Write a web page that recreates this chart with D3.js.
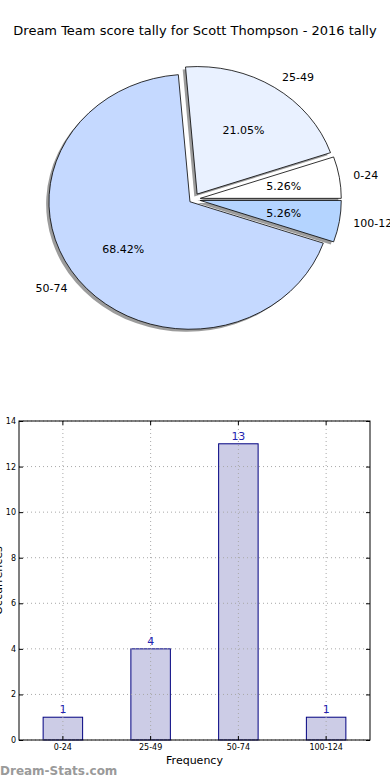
<!DOCTYPE html>
<html><head><meta charset="utf-8">
<script src="https://cdn.jsdelivr.net/npm/d3@7"></script>
<style>body{margin:0;background:#fff}svg{display:block}text{font-family:"DejaVu Sans",sans-serif}</style>
</head><body><svg id="c" width="390" height="780"></svg>
<script>
const title = "Dream Team score tally for Scott Thompson - 2016 tally";
const categories = ["0-24", "25-49", "50-74", "100-124"];
const counts = [1, 4, 13, 1];
const pieColors = ["#ffffff", "#e9f1ff", "#c5d9ff", "#b4d4ff"];
const explode = [0.05, 0.05, 0.03, 0.05];
const yTicks = [0, 2, 4, 6, 8, 10, 12, 14];
const xLabel = "Frequency";
const yLabel = "Occurrences";
const watermark = "Dream-Stats.com";

const svg = d3.select("#c");
svg.append("text").attr("x", 195).attr("y", 35).attr("text-anchor", "middle")
  .attr("font-size", 13).text(title);

// ---- Pie ----
const cx = 193.3, cy = 199.4, rx = 141, ry = 127.5;
const total = d3.sum(counts);
const pie = d3.pie().sort(null).startAngle(Math.PI/2).endAngle(Math.PI/2 - 2*Math.PI);
const arcs = pie(counts);
const arc = d3.arc().innerRadius(0).outerRadius(rx);
const sy = ry / rx;
function centerOf(d, i) {
  const m = (d.startAngle + d.endAngle) / 2;
  return [cx + explode[i]*rx*Math.sin(m), cy - explode[i]*ry*Math.cos(m)];
}
const gp = svg.append("g");
// shadows
arcs.forEach((d, i) => {
  const [x, y] = centerOf(d, i);
  gp.append("path").attr("d", arc(d))
    .attr("transform", `translate(${x - 0.02*rx},${y + 0.02*ry}) scale(1,${sy})`)
    .attr("fill", "#3a3a3a").attr("fill-opacity", 0.5);
});
arcs.forEach((d, i) => {
  const [x, y] = centerOf(d, i);
  gp.append("path").attr("d", arc(d))
    .attr("transform", `translate(${x},${y}) scale(1,${sy})`)
    .attr("fill", pieColors[i]).attr("stroke", "#000").attr("stroke-width", 0.8)
    .attr("vector-effect", "non-scaling-stroke").attr("stroke-linejoin", "miter");
});
arcs.forEach((d, i) => {
  const [x, y] = centerOf(d, i);
  const m = (d.startAngle + d.endAngle) / 2;
  const lx = x + 1.1*rx*Math.sin(m), ly = y - 1.1*ry*Math.cos(m);
  gp.append("text").attr("x", lx).attr("y", ly).attr("dy", "0.35em")
    .attr("text-anchor", lx > cx ? "start" : "end").attr("font-size", 11).text(categories[i]);
  const px = x + 0.6*rx*Math.sin(m), py = y - 0.6*ry*Math.cos(m);
  gp.append("text").attr("x", px).attr("y", py).attr("dy", "0.35em")
    .attr("text-anchor", "middle").attr("font-size", 11)
    .text((100*counts[i]/total).toFixed(2) + "%");
});

// ---- Bar chart ----
const L = 19, R = 370, T = 421, B = 740;
const x = d3.scaleBand().domain(categories).range([L, R]).padding(0);
const y = d3.scaleLinear().domain([0, 14]).range([B, T]);
const gb = svg.append("g");
const barW = x.bandwidth() * 0.45;
gb.selectAll("rect.bar").data(categories).join("rect").attr("class", "bar")
  .attr("x", d => x(d) + x.bandwidth()/2 - barW/2)
  .attr("y", (d, i) => y(counts[i]))
  .attr("width", barW).attr("height", (d, i) => B - y(counts[i]))
  .attr("fill", "#ccccе6".replace("е","e")).attr("stroke", "#000080").attr("stroke-width", 1);
// grid
yTicks.forEach(t => {
  gb.append("line").attr("x1", L).attr("x2", R).attr("y1", y(t)).attr("y2", y(t))
    .attr("stroke", "#a8a8a8").attr("stroke-width", 1).attr("stroke-dasharray", "1,3");
});
categories.forEach(c => {
  const xc = x(c) + x.bandwidth()/2;
  gb.append("line").attr("x1", xc).attr("x2", xc).attr("y1", T).attr("y2", B)
    .attr("stroke", "#a8a8a8").attr("stroke-width", 1).attr("stroke-dasharray", "1,3");
});
// frame
gb.append("rect").attr("x", L).attr("y", T).attr("width", R - L).attr("height", B - T)
  .attr("fill", "none").attr("stroke", "#000").attr("stroke-width", 1);
// axes
const yAxis = d3.axisLeft(y).tickValues(yTicks).tickSize(-4).tickPadding(3);
const ga = gb.append("g").attr("transform", `translate(${L},0)`).call(yAxis);
ga.select(".domain").remove();
ga.selectAll("text").attr("font-size", 8).attr("font-family", "DejaVu Sans");
const yAxisR = d3.axisRight(y).tickValues(yTicks).tickSize(-4).tickFormat("");
const gr = gb.append("g").attr("transform", `translate(${R},0)`).call(yAxisR);
gr.select(".domain").remove();
const xAxis = d3.axisBottom(x).tickSize(-4).tickPadding(4);
const gx = gb.append("g").attr("transform", `translate(0,${B})`).call(xAxis);
gx.select(".domain").remove();
gx.selectAll("text").attr("font-size", 8).attr("font-family", "DejaVu Sans");
gb.append("g").attr("transform", `translate(0,${T})`).call(d3.axisTop(x).tickSize(-4).tickFormat(""))
  .select(".domain").remove();
// value labels
gb.selectAll("text.val").data(categories).join("text").attr("class", "val")
  .attr("x", d => x(d) + x.bandwidth()/2)
  .attr("y", (d, i) => y(counts[i]) - 4)
  .attr("text-anchor", "middle").attr("font-size", 11).attr("fill", "#2323b0")
  .text((d, i) => counts[i]);
gb.append("text").attr("x", (L + R)/2).attr("y", 764).attr("text-anchor", "middle")
  .attr("font-size", 11).text(xLabel);
gb.append("text").attr("transform", `translate(2,${(T + B)/2}) rotate(-90)`)
  .attr("text-anchor", "middle").attr("font-size", 11).text(yLabel);
svg.append("text").attr("x", 0).attr("y", 775).attr("font-size", 12).attr("font-weight", "bold")
  .attr("fill", "#9a9a9a").text(watermark);
</script></body></html>
